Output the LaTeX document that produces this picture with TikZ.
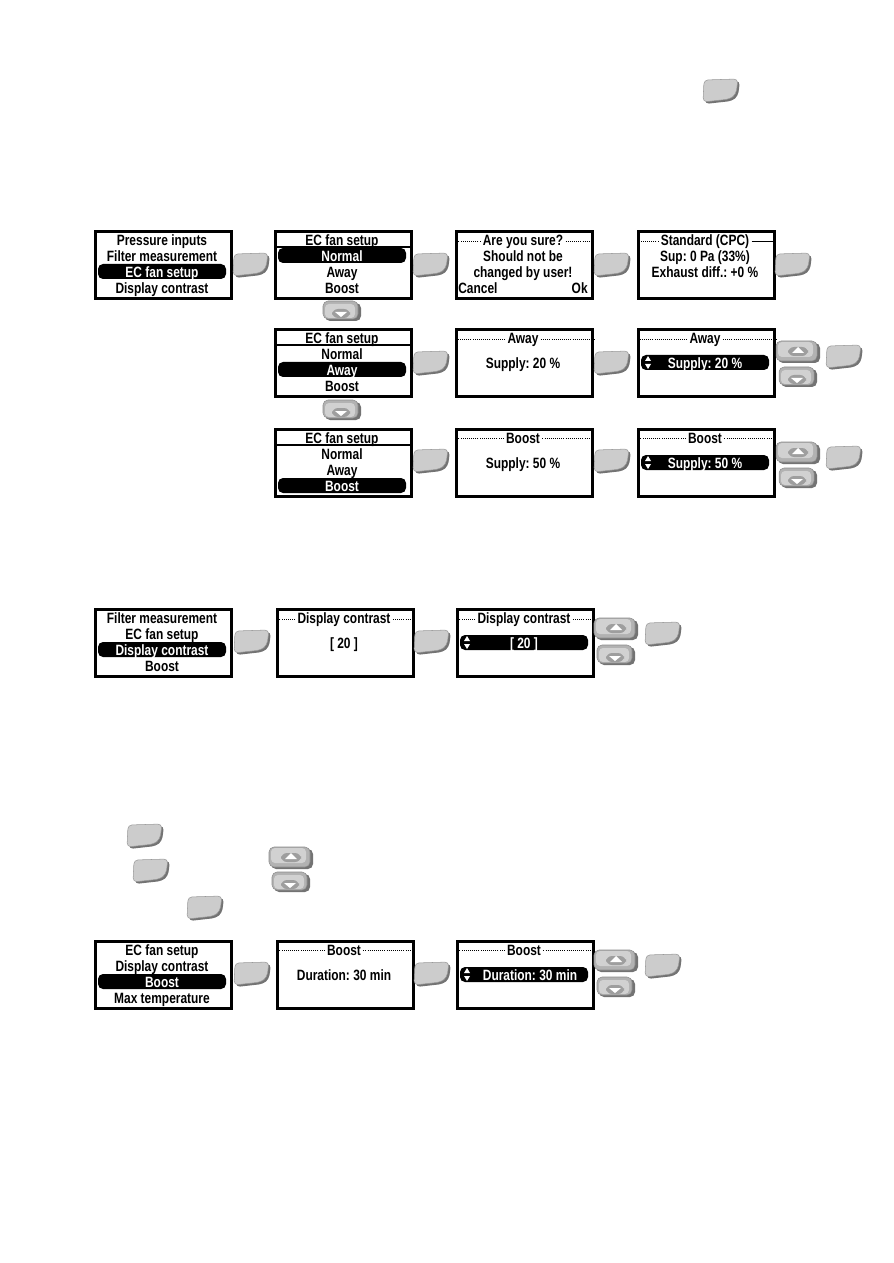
\documentclass[tikz,border=0pt]{standalone}
\usepackage{fontspec}
\newfontfamily\lcdfont[FakeStretch=0.8]{Liberation Sans}
\usetikzlibrary{calc}

\tikzset{
  okkey/.pic={
    \fill[black!55,rounded corners=0.08cm] (3,3) -- (37,2) -- (35,17) -- (29,22) -- (2,25) -- cycle;
    \filldraw[fill=black!20,draw=black!40,line width=0.3pt,rounded corners=0.08cm]
      (1,1) -- (35,0) -- (33,15) -- (27,20) -- (0,23) -- cycle;
  },
  upkey/.pic={
    \fill[black!55,rounded corners=0.1cm] (2,2) rectangle (44,22);
    \filldraw[fill=black!30,draw=black!45,line width=0.3pt,rounded corners=0.1cm] (0,0) rectangle (41,20);
    \fill[black!18,rounded corners=0.08cm] (2,1) rectangle (37,16);
    \fill[black!38,rounded corners=0.12cm] (12,6) rectangle (32,15);
    \fill[white] (16,12) -- (22,6) -- (28,12) -- cycle;
  },
  downkey/.pic={
    \fill[black!55,rounded corners=0.1cm] (2,2) rectangle (38,20);
    \filldraw[fill=black!30,draw=black!45,line width=0.3pt,rounded corners=0.1cm] (0,0) rectangle (35,18);
    \fill[black!18,rounded corners=0.08cm] (2,3) rectangle (32,17);
    \fill[black!38,rounded corners=0.12cm] (9,8) rectangle (27,17);
    \fill[white] (12,11) -- (18,16) -- (24,11) -- cycle;
  },
}

\begin{document}
\begin{tikzpicture}[x=0.02cm,y=-0.02cm,
  lcd/.style={draw,line width=1.8pt,anchor=north west,inner sep=0,
              minimum width=2.72cm,minimum height=1.34cm},
  txt/.style={font=\lcdfont\bfseries\fontsize{8.5}{9}\selectfont\frenchspacing,inner sep=0,anchor=mid,yshift=-1.3pt},
  ttl/.style={txt,inner xsep=1.2pt},
  seltxt/.style={txt,text=white},
  selbar/.style={fill=black,rounded corners=0.1cm},
  dotrule/.style={line width=0.5pt,dash pattern=on 0.5pt off 0.7pt},
  underrule/.style={line width=0.6pt},
]
\useasboundingbox (0,0) rectangle (893,1263);

\pic at (703,79) {okkey};

% ---- EC fan setup, row 1
\node[lcd] (menuA) at (94,230) {};
\fill[selbar] (98,264) rectangle (226,279);
\node[txt] (a1) at (162,239) {Pressure inputs};
\node[txt] (a2) at (162,255) {Filter measurement};
\node[seltxt] (a3) at (162,271) {EC fan setup};
\node[txt] (a4) at (162,287) {Display contrast};
\pic at (233,253) {okkey};

\node[lcd] (fanB) at (274,230) {};
\draw[underrule] (274,247) -- (410,247);
\fill[selbar] (278,248) rectangle (406,263);
\node[txt] (b1) at (342,239) {EC fan setup};
\node[seltxt] (b2) at (342,255) {Normal};
\node[txt] (b3) at (342,271) {Away};
\node[txt] (b4) at (342,287) {Boost};
\pic at (413,253) {okkey};

\node[lcd] (sureC) at (455,230) {};
\node[ttl] (c1) at (523,239) {Are you sure?};
\draw[dotrule] (c1.west) -- (c1.west -| sureC.west);
\draw[dotrule] (c1.east) -- (c1.east -| sureC.east);
\node[txt] (c2) at (523,255) {Should not be};
\node[txt] (c3) at (523,271) {changed by user!};
\node[txt,anchor=mid west] (c4) at (458,287) {Cancel};
\node[txt,anchor=mid east] (c5) at (588,287) {Ok};
\pic at (594,253) {okkey};

\node[lcd] (stdD) at (637,230) {};
\node[ttl] (d1) at (705,239) {Standard (CPC)};
\draw[dotrule] (d1.west) -- (d1.west -| stdD.west);
\draw[underrule] (d1.east) -- (d1.east -| stdD.east);
\node[txt] (d2) at (705,255) {Sup: 0 Pa (33\%)};
\node[txt] (d3) at (705,271) {Exhaust diff.: +0 \%};
\pic at (775,253) {okkey};

\pic at (323,301) {downkey};

% ---- row 2: Away
\node[lcd] (fanB2) at (274,328) {};
\draw[underrule] (274,345) -- (410,345);
\fill[selbar] (278,362) rectangle (406,377);
\node[txt] (e1) at (342,337) {EC fan setup};
\node[txt] (e2) at (342,353) {Normal};
\node[seltxt] (e3) at (342,369) {Away};
\node[txt] (e4) at (342,385) {Boost};
\pic at (413,351) {okkey};

\node[lcd] (awayE) at (455,328) {};
\node[ttl] (f1) at (523,337) {Away};
\draw[dotrule] (f1.west) -- (f1.west -| awayE.west);
\draw[dotrule] (f1.east) -- (f1.east -| awayE.east);
\node[txt] (f2) at (523,362) {Supply: 20 \%};
\pic at (594,351) {okkey};

\node[lcd] (awayF) at (637,328) {};
\node[ttl] (g1) at (705,337) {Away};
\draw[dotrule] (g1.west) -- (g1.west -| awayF.west);
\draw[dotrule] (g1.east) -- (g1.east -| awayF.east);
\fill[selbar] (641,355) rectangle (769,370);
\fill[white] (645,361) -- (648,356) -- (651,361) -- cycle (645,364) -- (648,369) -- (651,364) -- cycle;
\node[seltxt] (g2) at (705,362) {Supply: 20 \%};
\pic at (776,341) {upkey};
\pic at (826,345) {okkey};
\pic at (779,367) {downkey};

\pic at (323,400) {downkey};

% ---- row 3: Boost
\node[lcd] (fanB3) at (274,428) {};
\draw[underrule] (274,445) -- (410,445);
\fill[selbar] (278,478) rectangle (406,493);
\node[txt] (h1) at (342,437) {EC fan setup};
\node[txt] (h2) at (342,453) {Normal};
\node[txt] (h3) at (342,469) {Away};
\node[seltxt] (h4) at (342,485) {Boost};
\pic at (413,449) {okkey};

\node[lcd] (boostG) at (455,428) {};
\node[ttl] (i1) at (523,437) {Boost};
\draw[dotrule] (i1.west) -- (i1.west -| boostG.west);
\draw[dotrule] (i1.east) -- (i1.east -| boostG.east);
\node[txt] (i2) at (523,462) {Supply: 50 \%};
\pic at (594,449) {okkey};

\node[lcd] (boostH) at (637,428) {};
\node[ttl] (j1) at (705,437) {Boost};
\draw[dotrule] (j1.west) -- (j1.west -| boostH.west);
\draw[dotrule] (j1.east) -- (j1.east -| boostH.east);
\fill[selbar] (641,455) rectangle (769,470);
\fill[white] (645,461) -- (648,456) -- (651,461) -- cycle (645,464) -- (648,469) -- (651,464) -- cycle;
\node[seltxt] (j2) at (705,462) {Supply: 50 \%};
\pic at (776,442) {upkey};
\pic at (826,446) {okkey};
\pic at (779,468) {downkey};

% ---- Display contrast
\node[lcd] (menuA4) at (94,608) {};
\fill[selbar] (98,642) rectangle (226,657);
\node[txt] (k1) at (162,617) {Filter measurement};
\node[txt] (k2) at (162,633) {EC fan setup};
\node[seltxt] (k3) at (162,649) {Display contrast};
\node[txt] (k4) at (162,665) {Boost};
\pic at (234,630) {okkey};

\node[lcd] (contI) at (276,608) {};
\node[ttl] (l1) at (344,617) {Display contrast};
\draw[dotrule] (l1.west) -- (l1.west -| contI.west);
\draw[dotrule] (l1.east) -- (l1.east -| contI.east);
\node[txt] (l2) at (344,642) {[ 20 ]};
\pic at (414,630) {okkey};

\node[lcd] (contJ) at (456,608) {};
\node[ttl] (m1) at (524,617) {Display contrast};
\draw[dotrule] (m1.west) -- (m1.west -| contJ.west);
\draw[dotrule] (m1.east) -- (m1.east -| contJ.east);
\fill[selbar] (460,635) rectangle (588,650);
\fill[white] (464,641) -- (467,636) -- (470,641) -- cycle (464,644) -- (467,649) -- (470,644) -- cycle;
\node[seltxt] (m2) at (524,642) {[ 20 ]};
\pic at (594,618) {upkey};
\pic at (645,622) {okkey};
\pic at (597,645) {downkey};

% ---- loose keys
\pic at (127,824) {okkey};
\pic at (133,859) {okkey};
\pic at (269,847) {upkey};
\pic at (272,872) {downkey};
\pic at (187,896) {okkey};

% ---- Boost duration
\node[lcd] (menuA5) at (94,940) {};
\fill[selbar] (98,974) rectangle (226,989);
\node[txt] (n1) at (162,949) {EC fan setup};
\node[txt] (n2) at (162,965) {Display contrast};
\node[seltxt] (n3) at (162,981) {Boost};
\node[txt] (n4) at (162,997) {Max temperature};
\pic at (234,962) {okkey};

\node[lcd] (durK) at (276,940) {};
\node[ttl] (o1) at (344,949) {Boost};
\draw[dotrule] (o1.west) -- (o1.west -| durK.west);
\draw[dotrule] (o1.east) -- (o1.east -| durK.east);
\node[txt] (o2) at (344,974) {Duration: 30 min};
\pic at (414,962) {okkey};

\node[lcd] (durL) at (456,940) {};
\node[ttl] (p1) at (524,949) {Boost};
\draw[dotrule] (p1.west) -- (p1.west -| durL.west);
\draw[dotrule] (p1.east) -- (p1.east -| durL.east);
\fill[selbar] (460,967) rectangle (588,982);
\fill[white] (464,973) -- (467,968) -- (470,973) -- cycle (464,976) -- (467,981) -- (470,976) -- cycle;
\node[seltxt] (p2) at (530,974) {Duration: 30 min};
\pic at (594,950) {upkey};
\pic at (645,954) {okkey};
\pic at (597,977) {downkey};
\end{tikzpicture}
\end{document}
